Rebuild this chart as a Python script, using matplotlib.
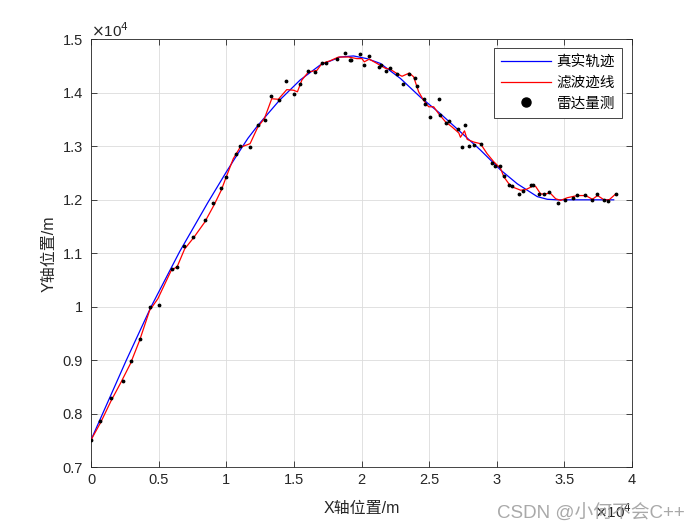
import numpy as np
import matplotlib
matplotlib.use("Agg")
import matplotlib.pyplot as plt
from matplotlib.lines import Line2D

plt.rcParams['font.family'] = ['Liberation Sans', 'Noto Sans CJK SC', 'DejaVu Sans']

# ── Data (units of 1e4 m) ─────────────────────────────────────────────────
x_true = [0.000, 0.259, 0.444, 0.655, 0.864, 1.000, 1.085, 1.160, 1.233, 1.393,
          1.546, 1.694, 1.842, 1.941, 2.040, 2.139, 2.287, 2.435, 2.583, 2.731,
          2.879, 3.027, 3.151, 3.225, 3.299, 3.373, 3.447, 3.864]
y_true = [0.751, 0.899, 1.000, 1.103, 1.195, 1.252, 1.286, 1.315, 1.339, 1.386,
          1.424, 1.452, 1.467, 1.469, 1.464, 1.455, 1.427, 1.392, 1.361, 1.327,
          1.293, 1.256, 1.230, 1.218, 1.206, 1.201, 1.200, 1.200]

x_filt = [0.000, 0.072, 0.148, 0.222, 0.292, 0.359, 0.433, 0.494, 0.593, 0.637,
          0.692, 0.761, 0.840, 0.909, 0.963, 1.000, 1.052, 1.102, 1.176, 1.233,
          1.282, 1.336, 1.385, 1.447, 1.496, 1.526, 1.559, 1.607, 1.670, 1.707,
          1.768, 1.830, 1.904, 1.966, 2.003, 2.020, 2.057, 2.114, 2.176, 2.213,
          2.262, 2.299, 2.353, 2.385, 2.422, 2.459, 2.496, 2.533, 2.570, 2.620,
          2.670, 2.719, 2.731, 2.761, 2.781, 2.830, 2.879, 2.929, 2.978, 3.027,
          3.052, 3.089, 3.126, 3.176, 3.213, 3.262, 3.287, 3.324, 3.361, 3.393,
          3.435, 3.472, 3.522, 3.596, 3.657, 3.707, 3.744, 3.793, 3.830, 3.879]
y_filt = [0.751, 0.784, 0.824, 0.859, 0.894, 0.937, 0.993, 1.015, 1.068, 1.075,
          1.108, 1.130, 1.158, 1.190, 1.218, 1.243, 1.277, 1.298, 1.305, 1.336,
          1.352, 1.389, 1.388, 1.406, 1.405, 1.402, 1.424, 1.439, 1.442, 1.455,
          1.460, 1.467, 1.467, 1.464, 1.464, 1.458, 1.463, 1.455, 1.446, 1.444,
          1.436, 1.431, 1.437, 1.430, 1.402, 1.386, 1.374, 1.374, 1.361, 1.346,
          1.336, 1.325, 1.317, 1.329, 1.313, 1.308, 1.305, 1.286, 1.271, 1.259,
          1.243, 1.230, 1.223, 1.218, 1.219, 1.225, 1.225, 1.211, 1.211, 1.213,
          1.202, 1.199, 1.204, 1.208, 1.208, 1.201, 1.208, 1.200, 1.200, 1.211]

x_meas = [0.000, 0.070, 0.151, 0.233, 0.292, 0.361, 0.433, 0.504, 0.600, 0.633,
          0.689, 0.753, 0.844, 0.904, 0.963, 1.000, 1.070, 1.102, 1.176, 1.233,
          1.287, 1.333, 1.393, 1.444, 1.502, 1.548, 1.607, 1.657, 1.707, 1.739,
          1.818, 1.874, 1.911, 1.924, 1.985, 2.015, 2.057, 2.126, 2.146, 2.183,
          2.213, 2.262, 2.304, 2.353, 2.396, 2.413, 2.459, 2.472, 2.509, 2.573,
          2.578, 2.625, 2.647, 2.711, 2.739, 2.763, 2.793, 2.830, 2.882, 2.961,
          2.990, 3.027, 3.052, 3.090, 3.113, 3.166, 3.194, 3.253, 3.267, 3.314,
          3.348, 3.385, 3.452, 3.502, 3.561, 3.596, 3.650, 3.707, 3.741, 3.790,
          3.822, 3.879]
y_meas = [0.751, 0.786, 0.830, 0.861, 0.899, 0.939, 1.000, 1.004, 1.070, 1.074,
          1.113, 1.130, 1.162, 1.195, 1.222, 1.242, 1.286, 1.301, 1.299, 1.339,
          1.350, 1.394, 1.386, 1.423, 1.397, 1.417, 1.441, 1.439, 1.455, 1.455,
          1.464, 1.475, 1.462, 1.461, 1.472, 1.452, 1.469, 1.449, 1.452, 1.440,
          1.446, 1.435, 1.416, 1.436, 1.427, 1.412, 1.388, 1.380, 1.355, 1.388,
          1.359, 1.343, 1.347, 1.333, 1.299, 1.339, 1.300, 1.303, 1.305, 1.269,
          1.263, 1.264, 1.245, 1.228, 1.226, 1.211, 1.216, 1.228, 1.227, 1.211,
          1.210, 1.215, 1.195, 1.200, 1.203, 1.209, 1.209, 1.199, 1.210, 1.199,
          1.198, 1.211]

x_ticks = [0, 0.5, 1, 1.5, 2, 2.5, 3, 3.5, 4]
y_ticks = [0.7, 0.8, 0.9, 1.0, 1.1, 1.2, 1.3, 1.4, 1.5]
x_ticklabels = ['0', '0.5', '1', '1.5', '2', '2.5', '3', '3.5', '4']
y_ticklabels = ['0.7', '0.8', '0.9', '1', '1.1', '1.2', '1.3', '1.4', '1.5']

# ── Plot ───────────────────────────────────────────────────────────────────
fig = plt.figure(figsize=(7, 5.25), dpi=100)
ax = fig.add_axes([0.13, 0.11, 0.773, 0.815])

ax.plot(x_true, y_true, color='#0000ff', lw=0.9, zorder=3)
ax.plot(x_filt, y_filt, color='#ff0000', lw=0.9, zorder=4)
ax.plot(x_meas, y_meas, 'k.', ms=3.5, zorder=5)

ax.set_xlim(0, 4)
ax.set_ylim(0.7, 1.5)
ax.set_xticks(x_ticks)
ax.set_xticklabels(x_ticklabels)
ax.set_yticks(y_ticks)
ax.set_yticklabels(y_ticklabels)
ax.tick_params(direction='in', length=4, width=0.6, labelsize=10.5,
               colors='#262626', top=True, right=True, labeltop=False, labelright=False)
ax.tick_params(axis='x', pad=4)
ax.tick_params(axis='y', pad=6)
for s in ax.spines.values():
    s.set_linewidth(0.6)
    s.set_color('#262626')
ax.grid(True, color='#dcdcdc', lw=0.6)
ax.set_axisbelow(True)

ax.set_xlabel('X轴位置/m', fontsize=11.5, color='#262626', labelpad=10)
ax.set_ylabel('Y轴位置/m', fontsize=11.5, color='#262626', labelpad=4)

# exponent labels like MATLAB
ax.text(0.0, 0.998, r'$\times$10$^4$', transform=ax.transAxes, fontsize=11,
        color='#262626', ha='left', va='bottom')
ax.text(1.0, -0.125, r'$\times$10$^4$', transform=ax.transAxes, fontsize=11,
        color='#262626', ha='right', va='bottom')

handles = [Line2D([], [], color='#0000ff', lw=0.9),
           Line2D([], [], color='#ff0000', lw=0.9),
           Line2D([], [], color='k', marker='.', ls='none', ms=13)]
leg = ax.legend(handles, ['真实轨迹', '滤波迹线', '雷达量测'],
                loc='upper right', bbox_to_anchor=(0.982, 0.98), borderaxespad=0,
                prop={'family': ['Noto Sans CJK SC'], 'size': 10.5},
                handlelength=3.4, handletextpad=0.4, borderpad=0.5,
                labelspacing=0.45, fancybox=False, framealpha=1,
                edgecolor='#262626')
leg.get_frame().set_linewidth(0.6)

# watermark
fig.text(0.71, 0.012, 'CSDN @小何不会C++', fontsize=13.5, color='#a0a0a0',
         family=['Liberation Sans', 'Noto Sans CJK SC'], alpha=0.9)

plt.savefig('out.png', dpi=100)
